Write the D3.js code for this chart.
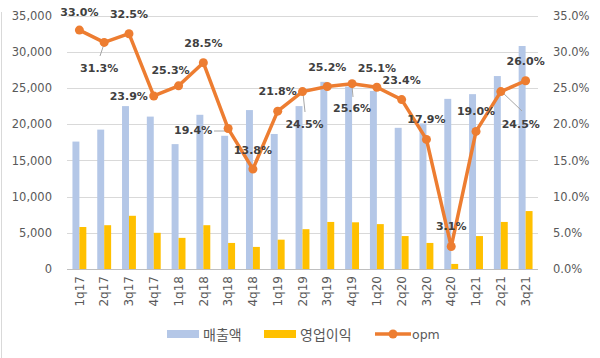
<!DOCTYPE html>
<html><head><meta charset="utf-8">
<script src="https://cdn.jsdelivr.net/npm/d3@7"></script>
<style>body{margin:0;background:#fff}svg{display:block}</style>
</head><body>
<svg id="c" width="600" height="358"></svg>
<script>
const categories = ["1q17","2q17","3q17","4q17","1q18","2q18","3q18","4q18","1q19","2q19","3q19","4q19","1q20","2q20","3q20","4q20","1q21","2q21","3q21"];
const revenue = [17600,19250,22500,21050,17250,21300,18400,21950,18650,22500,25850,25200,24600,19500,20100,23500,24150,26650,30800];
const opProfit = [5800,6050,7350,5000,4300,6050,3600,3050,4050,5500,6500,6450,6200,4550,3600,700,4550,6500,8000];
const opm = [33.0,31.3,32.5,23.9,25.3,28.5,19.4,13.8,21.8,24.5,25.2,25.6,25.1,23.4,17.9,3.1,19.0,24.5,26.0];
const leftTicks = [0,5000,10000,15000,20000,25000,30000,35000];
const rightTicks = [0,5,10,15,20,25,30,35];
const seriesNames = ["매출액","영업이익","opm"];
// label placement offsets (dx, dy from point) and optional leader line
const labelOffsets = [[0,-18],[-5,26],[0,-19],[-25,1],[-8,-15],[0,-19],[-35,2],[0,-19],[0,-20],[2,33],[0,-19],[0,25],[0,-19],[0,-19],[0,-20],[0,-20],[0,-20],[20,33],[0,-19]];
const leaders = {1:[[104,44],[100,56]],6:[[214,131],[226,131]],9:[[303,93],[305,112]],11:[[352,86],[353,97]],17:[[502,92],[522,111]]};

const svg = d3.select("#c");
const L = 67, R = 538, T = 15.6, B = 269;
const colBlue = "#b4c7e7", colYellow = "#ffc000", colOrange = "#ed7d31";
const font = "DejaVu Sans";

svg.append("line").attr("x1",1.5).attr("x2",1.5).attr("y1",12).attr("y2",358)
  .attr("stroke","#d9d9d9");

const x = d3.scaleBand().domain(categories).range([L,R]).paddingInner(0).paddingOuter(0);
const yL = d3.scaleLinear().domain([0,35000]).range([B,T]);
const yR = d3.scaleLinear().domain([0,35]).range([B,T]);

// gridlines
svg.append("g").selectAll("line").data(leftTicks.filter(d=>d>0)).join("line")
  .attr("x1",L).attr("x2",R).attr("y1",d=>Math.round(yL(d))+0.5).attr("y2",d=>Math.round(yL(d))+0.5)
  .attr("stroke","#d9d9d9").attr("stroke-width",1);

// left axis labels
const fmt = d3.format(",");
const yAxisL = d3.axisLeft(yL).tickValues(leftTicks).tickFormat(fmt).tickSize(0).tickPadding(15);
const gL = svg.append("g").attr("transform",`translate(${L},0)`).call(yAxisL);
gL.select(".domain").remove();
gL.selectAll("text").attr("font-family",font).attr("font-size","11.5px").attr("fill","#595959");

const yAxisR = d3.axisRight(yR).tickValues(rightTicks).tickFormat(d=>d.toFixed(1)+"%").tickSize(0).tickPadding(15);
const gR = svg.append("g").attr("transform",`translate(${R},0)`).call(yAxisR);
gR.select(".domain").remove();
gR.selectAll("text").attr("font-family",font).attr("font-size","11.5px").attr("fill","#595959");

// bars
const bw = x.bandwidth();
const barW = bw*0.28;
const xs = d3.scaleBand().domain([0,1]).range([bw/2-barW, bw/2+barW]);
const gb = svg.append("g");
gb.selectAll("rect.rev").data(revenue).join("rect").attr("class","rev")
  .attr("x",(d,i)=>x(categories[i])+xs(0)).attr("width",xs.bandwidth())
  .attr("y",d=>yL(d)).attr("height",d=>B-yL(d)).attr("fill",colBlue);
gb.selectAll("rect.op").data(opProfit).join("rect").attr("class","op")
  .attr("x",(d,i)=>x(categories[i])+xs(1)).attr("width",xs.bandwidth())
  .attr("y",d=>yL(d)).attr("height",d=>B-yL(d)).attr("fill",colYellow);

// x axis
const xAxis = d3.axisBottom(x).tickSize(0).tickPadding(0);
const gX = svg.append("g").attr("transform",`translate(0,${B})`).call(xAxis);
gX.select(".domain").attr("stroke","#bfbfbf").attr("d",`M${L},0.5H${R}`);
gX.selectAll("text").attr("font-family",font).attr("font-size","12px").attr("fill","#595959")
  .attr("transform","rotate(-90)").attr("text-anchor","end").attr("dy","0.35em").attr("x",-7).attr("y",0);

// leader lines
const gLead = svg.append("g");
Object.values(leaders).forEach(p=>{
  gLead.append("line").attr("x1",p[0][0]).attr("y1",p[0][1]).attr("x2",p[1][0]).attr("y2",p[1][1])
    .attr("stroke","#a6a6a6").attr("stroke-width",1);
});

// line
const cx = i => x(categories[i]) + bw/2;
const line = d3.line().x((d,i)=>cx(i)).y(d=>yR(d));
svg.append("path").datum(opm).attr("d",line).attr("fill","none").attr("stroke",colOrange)
  .attr("stroke-width",3.5).attr("stroke-linejoin","round");
svg.append("g").selectAll("circle").data(opm).join("circle")
  .attr("cx",(d,i)=>cx(i)).attr("cy",d=>yR(d)).attr("r",4.5).attr("fill",colOrange);

// data labels
svg.append("g").selectAll("text").data(opm).join("text")
  .attr("x",(d,i)=>cx(i)+labelOffsets[i][0]).attr("y",(d,i)=>yR(d)+labelOffsets[i][1])
  .attr("text-anchor","middle").attr("dominant-baseline","central")
  .attr("font-family",font).attr("font-weight","bold").attr("font-size","11px").attr("fill","#404040")
  .text(d=>d.toFixed(1)+"%");

// legend
const lg = svg.append("g");
const ly = 334;
lg.append("rect").attr("x",167).attr("y",ly-4).attr("width",32).attr("height",8).attr("fill",colBlue);
lg.append("text").attr("x",203).attr("y",ly).attr("dominant-baseline","central").attr("font-family","Noto Sans CJK KR").attr("font-size","14px").attr("fill","#595959").text(seriesNames[0]);
lg.append("rect").attr("x",264).attr("y",ly-4).attr("width",32).attr("height",8).attr("fill",colYellow);
lg.append("text").attr("x",300).attr("y",ly).attr("dominant-baseline","central").attr("font-family","Noto Sans CJK KR").attr("font-size","14px").attr("fill","#595959").text(seriesNames[1]);
lg.append("line").attr("x1",375).attr("x2",411).attr("y1",ly).attr("y2",ly).attr("stroke",colOrange).attr("stroke-width",3.5);
lg.append("circle").attr("cx",393).attr("cy",ly).attr("r",4.5).attr("fill",colOrange);
lg.append("text").attr("x",412).attr("y",ly).attr("dominant-baseline","central").attr("font-family",font).attr("font-size","12.5px").attr("fill","#595959").text(seriesNames[2]);
</script>
</body></html>
